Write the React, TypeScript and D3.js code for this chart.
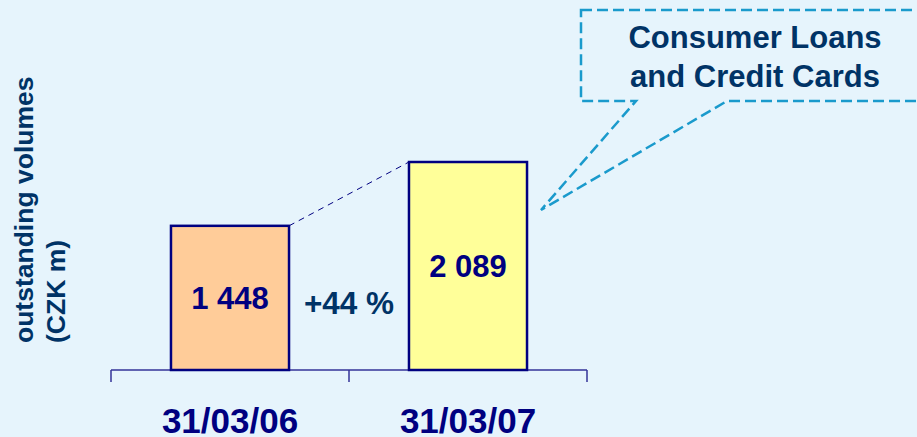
import React from "react";
import * as d3 from "d3";

// Outstanding volumes, CZK m
const periods = ["31/03/06", "31/03/07"];
const volumes = [1448, 2089];
const valueLabels = ["1 448", "2 089"];
const growthLabel = "+44 %";
const yTitleLines = ["outstanding volumes", "(CZK m)"];
const calloutLines = ["Consumer Loans", "and Credit Cards"];
const barFills = ["#FFCC99", "#FFFF99"];

const W = 917;
const H = 437;
const FONT = "'Liberation Sans', Arial, Helvetica, sans-serif";
const NAVY = "#000080";
const DARK = "#003366";
const CYAN = "#1A9ACC";

export default function App() {
  const x = d3
    .scaleBand<string>()
    .domain(periods)
    .range([111, 587])
    .paddingInner(0.504)
    .paddingOuter(0.252);

  const y = d3.scaleLinear().domain([0, 2089]).range([370, 162]);
  const base = y(0);

  // category boundary ticks along the baseline
  const step = x.step();
  const tickXs = d3.range(periods.length + 1).map((i) => 111 + i * step);

  const b0 = x(periods[0])! + x.bandwidth();
  const b1 = x(periods[1])!;

  // callout balloon with a pointer toward the second bar
  const tip: [number, number] = [b1 + x.bandwidth() + 14, 210];
  const balloon = d3.path();
  balloon.moveTo(581, 10);
  balloon.lineTo(W + 10, 10);
  balloon.lineTo(W + 10, 101);
  balloon.lineTo(727, 101);
  balloon.lineTo(tip[0], tip[1]);
  balloon.lineTo(636, 101);
  balloon.lineTo(581, 101);
  balloon.closePath();

  return (
    <svg
      width={W}
      height={H}
      style={{ position: "absolute", left: 0, top: 0, display: "block" }}
      fontFamily={FONT}
      fontWeight="bold"
    >
      <rect width={W} height={H} fill="#E6F4FC" />

      {/* axis title */}
      <g transform="translate(0,343) rotate(-90)">
        {yTitleLines.map((t, i) => (
          <text key={t} x={0} y={33 + i * 32} fontSize={26.5} fill={DARK}>
            {t}
          </text>
        ))}
      </g>

      {/* baseline with boundary ticks */}
      <g stroke="#333399" strokeWidth={1.5}>
        <line x1={111} x2={587} y1={base} y2={base} />
        {tickXs.map((tx) => (
          <line key={tx} x1={tx} x2={tx} y1={base} y2={base + 12} />
        ))}
      </g>

      {/* growth connector */}
      <line
        x1={b0}
        y1={y(volumes[0])}
        x2={b1}
        y2={y(volumes[1])}
        stroke={NAVY}
        strokeWidth={1}
        strokeDasharray="6,5"
      />

      {periods.map((p, i) => {
        const bx = x(p)!;
        const top = y(volumes[i]);
        return (
          <g key={p}>
            <rect
              x={bx}
              y={top}
              width={x.bandwidth()}
              height={base - top}
              fill={barFills[i]}
              stroke={NAVY}
              strokeWidth={2.5}
            />
            <text
              x={bx + x.bandwidth() / 2}
              y={(top + base) / 2 + 11}
              textAnchor="middle"
              fontSize={31}
              fill={NAVY}
            >
              {valueLabels[i]}
            </text>
            <text
              x={bx + x.bandwidth() / 2}
              y={433}
              textAnchor="middle"
              fontSize={35}
              fill={NAVY}
            >
              {p}
            </text>
          </g>
        );
      })}

      <text x={(b0 + b1) / 2} y={314} textAnchor="middle" fontSize={31.5} fill={DARK}>
        {growthLabel}
      </text>

      {/* callout */}
      <path
        d={balloon.toString()}
        fill="none"
        stroke={CYAN}
        strokeWidth={2.5}
        strokeDasharray="11,5"
      />
      {calloutLines.map((t, i) => (
        <text key={t} x={755} y={48 + i * 39} textAnchor="middle" fontSize={31} fill={DARK}>
          {t}
        </text>
      ))}
    </svg>
  );
}
